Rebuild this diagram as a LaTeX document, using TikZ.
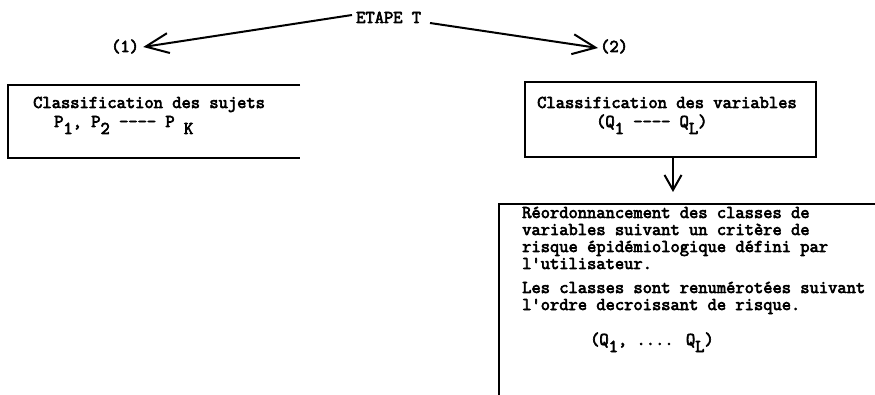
\documentclass[tikz,border=0pt]{standalone}
\usepackage{fontspec}
\newfontfamily\tw{Latin Modern Mono}[FakeBold=3.5]
\usetikzlibrary{arrows.meta}
% lowered index in the typewriter style
\newcommand{\lowix}[1]{\raisebox{-7pt}{#1}}
\begin{document}
\begin{tikzpicture}[x=1pt,y=-1pt,
  txt/.style={inner sep=0pt,anchor=base west,font=\tw\fontsize{18}{18}\selectfont},
  frame/.style={line width=2pt},
  bigarrow/.style={line width=2pt,-{Straight Barb[length=23pt,width=20pt,line width=2pt]}},
  downarrow/.style={line width=2pt,-{Straight Barb[length=15pt,width=17pt,line width=2pt]}}]
\useasboundingbox (0,0) rectangle (875,395);

% heading and the two branches
\node[txt] (etape) at (356,23) {ETAPE T};
\node[txt] (one) at (111,52) {(1)};
\node[txt] (two) at (600,52) {(2)};
\coordinate (lstart) at (352,15);
\coordinate (rstart) at (430,23);
\draw[bigarrow] (lstart) -- ([xshift=4pt]one.east |- 0,47);
\draw[bigarrow] (rstart) -- ([xshift=-2pt]two.west |- 0,48);

% subject classification (open on the right)
\coordinate (s1) at (300,85);
\coordinate (s2) at (8,85);
\coordinate (s3) at (8,158);
\coordinate (s4) at (300,158);
\draw[frame] (s1) -- (s2) -- (s3) -- (s4);
\node[txt] (sj1) at (33,108) {Classification des sujets};
\node[txt] (sj2) at (54,127) {P\lowix{1}, P\lowix{2} ---- P \lowix{K}};

% variable classification
\node[frame,draw,minimum width=291pt,minimum height=75pt,inner sep=0pt] (box2) at (670.5,119.5) {};
\node[txt] (v1) at (537,108) {Classification des variables};
\node[txt] (v2) at (596,127) {(Q\lowix{1} ---- Q\lowix{L})};

% reordering of the classes (runs past the edges)
\coordinate (tipd) at (673,192);
\draw[downarrow] (box2.south -| tipd) -- (tipd);
\coordinate (r1) at (875,204);
\coordinate (r2) at (499,204);
\coordinate (r3) at (499,395);
\draw[frame] (r1) -- (r2) -- (r3);
\node[txt] (t1) at (522,218) {Réordonnancement des classes de};
\node[txt] (t2) at (522,235) {variables suivant un critère de};
\node[txt] (t3) at (522,252) {risque épidémiologique défini par};
\node[txt] (t4) at (522,269) {l'utilisateur.};
\node[txt] (t5) at (522,293) {Les classes sont renumérotées suivant};
\node[txt] (t6) at (522,310) {l'ordre decroissant de risque.};
\node[txt] (t7) at (590,345) {(Q\lowix{1}, .... Q\lowix{L})};
\end{tikzpicture}
\end{document}
